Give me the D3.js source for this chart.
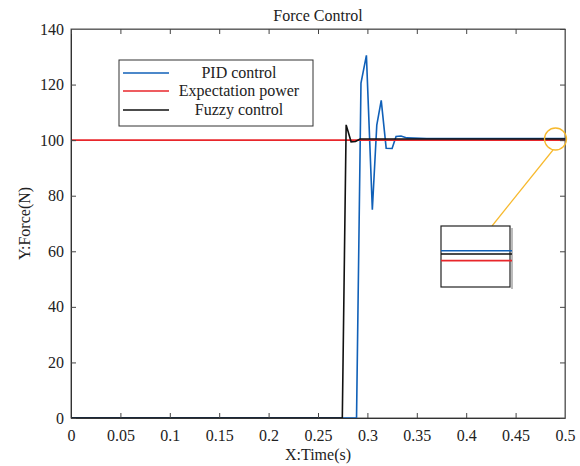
<!DOCTYPE html>
<html>
<head>
<meta charset="utf-8">
<script src="https://cdn.jsdelivr.net/npm/d3@7"></script>
<style>
  body { margin: 0; background: #fff; }
</style>
</head>
<body>
<div id="container"></div>
<script>
let w = 580;
let h = 466;
let serif = "'Liberation Serif', 'Times New Roman', Times, serif";

// data
let pidTime = [0, 0.289, 0.2935, 0.299, 0.305, 0.3095, 0.314, 0.319, 0.325, 0.329, 0.334, 0.34, 0.36, 0.5];
let pidForce = [0, 0, 120.5, 130.5, 75, 105.4, 114.3, 97.1, 97, 101.3, 101.5, 100.8, 100.6, 100.6];
let fuzzyTime = [0, 0.2746, 0.2785, 0.2835, 0.288, 0.2925, 0.5];
let fuzzyForce = [0, 0, 105.5, 99.4, 99.5, 100.4, 100.4];
let expectTime = [0, 0.5];
let expectForce = [100, 100];
let xTicks = [0, 0.05, 0.1, 0.15, 0.2, 0.25, 0.3, 0.35, 0.4, 0.45, 0.5];
let yTicks = [0, 20, 40, 60, 80, 100, 120, 140];
let legendNames = ["PID control", "Expectation power", "Fuzzy control"];
let colors = ["#1060b8", "#e8262b", "#111111"];

let padLeft = 71, padRight = 565, padTop = 29, padBottom = 418;

let viz = d3.select("#container")
  .append("svg")
    .attr("width", w)
    .attr("height", h)
    .style("background-color", "white")
    .style("font-family", serif);

let xScale = d3.scaleLinear().domain([0, 0.5]).range([padLeft, padRight]);
let yScale = d3.scaleLinear().domain([0, 140]).range([padBottom, padTop]);

function toPoints(ts, fs) {
  return ts.map((t, i) => [t, fs[i]]);
}
let series = [
  toPoints(pidTime, pidForce),
  toPoints(expectTime, expectForce),
  toPoints(fuzzyTime, fuzzyForce)
];

let line = d3.line().x(d => xScale(d[0])).y(d => yScale(d[1]));

// box (top/right mirrored)
viz.append("rect")
  .attr("x", padLeft).attr("y", padTop)
  .attr("width", padRight - padLeft).attr("height", padBottom - padTop)
  .attr("fill", "none").attr("stroke", "#555").attr("stroke-width", 1);

// lines
series.forEach((s, i) => {
  viz.append("path")
    .datum(s)
    .attr("d", line)
    .attr("fill", "none")
    .attr("stroke", colors[i])
    .attr("stroke-width", 1.6);
});

// axes
let xAxis = viz.append("g")
  .attr("transform", "translate(0," + padBottom + ")")
  .call(d3.axisBottom(xScale).tickValues(xTicks).tickSizeInner(-5).tickSizeOuter(0).tickPadding(12)
    .tickFormat(d => String(+d.toFixed(2))));
let yAxis = viz.append("g")
  .attr("transform", "translate(" + padLeft + ",0)")
  .call(d3.axisLeft(yScale).tickValues(yTicks).tickSizeInner(-5).tickSizeOuter(0).tickPadding(7));
let xTop = viz.append("g")
  .attr("transform", "translate(0," + padTop + ")")
  .call(d3.axisTop(xScale).tickValues(xTicks).tickSizeInner(-5).tickSizeOuter(0).tickFormat(""));
let yRight = viz.append("g")
  .attr("transform", "translate(" + padRight + ",0)")
  .call(d3.axisRight(yScale).tickValues(yTicks).tickSizeInner(-5).tickSizeOuter(0).tickFormat(""));

[xAxis, yAxis, xTop, yRight].forEach(g => {
  g.attr("font-family", null).attr("font-size", null);
  g.select(".domain").attr("stroke", "#333");
  g.selectAll(".tick line").attr("stroke", "#444");
  g.selectAll("text").style("font-size", "16px").style("font-family", serif).attr("fill", "#222");
});
xTop.select(".domain").attr("stroke", "#666");
yRight.select(".domain").attr("stroke", "#666");

// title and axis labels
function label(x, y, txt) {
  return viz.append("text").attr("x", x).attr("y", y)
    .attr("text-anchor", "middle").attr("fill", "#222")
    .style("font-size", "16px").style("font-family", serif).text(txt);
}
label((padLeft + padRight) / 2, 21, "Force Control");
label((padLeft + padRight) / 2, 460, "X:Time(s)");
label(0, 0, "Y:Force(N)")
  .attr("transform", "translate(30," + (padTop + padBottom) / 2 + ") rotate(-90)");

// legend
let legend = viz.append("g");
legend.append("rect")
  .attr("x", 119).attr("y", 60).attr("width", 194).attr("height", 66)
  .attr("fill", "white").attr("stroke", "#333").attr("stroke-width", 1);
let rowY = [73, 91, 110];
legendNames.forEach((name, i) => {
  legend.append("line")
    .attr("x1", 123).attr("x2", 169)
    .attr("y1", rowY[i]).attr("y2", rowY[i])
    .attr("stroke", colors[i]).attr("stroke-width", 1.6);
  legend.append("text")
    .attr("x", 239).attr("y", rowY[i] + 5)
    .attr("text-anchor", "middle").attr("fill", "#222")
    .style("font-size", "16px").style("font-family", serif)
    .text(name);
});

// magnifier circle and connector
let cx = 555.5, cy = 139;
viz.append("circle")
  .attr("cx", cx).attr("cy", cy).attr("r", 11)
  .attr("fill", "none").attr("stroke", "#f7b92d").attr("stroke-width", 1.3);
viz.append("line")
  .attr("x1", 553).attr("y1", 150).attr("x2", 492).attr("y2", 226)
  .attr("stroke", "#f7b92d").attr("stroke-width", 1.2);

// inset
let ix0 = 441, ix1 = 510, iy0 = 226, iy1 = 287;
let inXScale = d3.scaleLinear().domain([0.485, 0.4975]).range([ix0, ix1]);
let inYScale = d3.scaleLinear().domain([98.4, 102.1]).range([iy1, iy0]);
let inLine = d3.line().x(d => inXScale(d[0])).y(d => inYScale(d[1]));

viz.append("clipPath").attr("id", "insetClip")
  .append("rect").attr("x", ix0).attr("y", iy0).attr("width", ix1 - ix0 + 2).attr("height", iy1 - iy0);

viz.append("rect")
  .attr("x", ix1 + 1).attr("y", iy0 + 2).attr("width", 2).attr("height", iy1 - iy0)
  .attr("fill", "#bbb");
viz.append("rect")
  .attr("x", ix0).attr("y", iy0).attr("width", ix1 - ix0).attr("height", iy1 - iy0)
  .attr("fill", "white").attr("stroke", "#222").attr("stroke-width", 1.2);

let inset = viz.append("g").attr("clip-path", "url(#insetClip)");
series.forEach((s, i) => {
  inset.append("path")
    .datum(s)
    .attr("d", inLine)
    .attr("fill", "none")
    .attr("stroke", colors[i])
    .attr("stroke-width", 1.6);
});
</script>
</body>
</html>
